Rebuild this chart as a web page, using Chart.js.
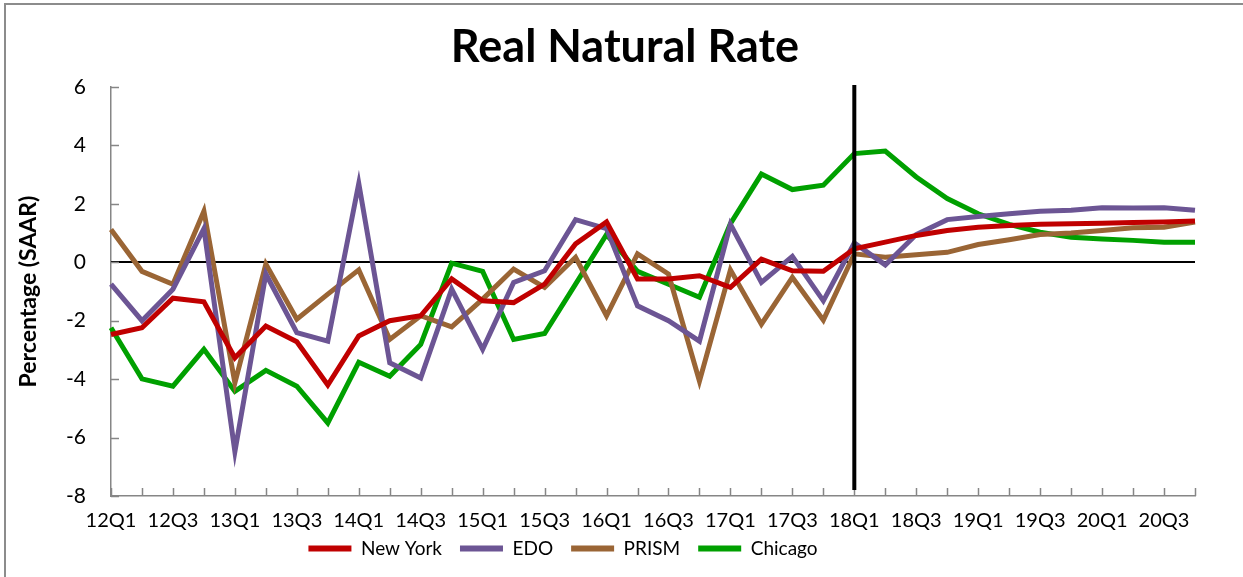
<!DOCTYPE html>
<html lang="en">
<head>
    <meta charset="UTF-8">
    <title>Real Natural Rate</title>
    <style>
        body {
            margin: 0;
            background: #fff;
            overflow: hidden;
        }
        .frame {
            position: absolute;
            left: 4px;
            top: 3px;
            width: 1300px;
            height: 620px;
            border: 2px solid #8c8c8c;
        }
        .chart-container {
            position: absolute;
            left: 0;
            top: 0;
            width: 1243px;
            height: 577px;
        }
    </style>
    <script src="https://cdn.jsdelivr.net/npm/chart.js@4.4.1/dist/chart.umd.min.js"></script>
</head>
<body>
    <div class="frame"></div>
    <div class="chart-container">
        <canvas id="line-chart" width="1243" height="577"></canvas>
    </div>

    <script>
    // quarters 12Q1 .. 20Q4
    const quarters = [
        "12Q1","12Q2","12Q3","12Q4","13Q1","13Q2","13Q3","13Q4",
        "14Q1","14Q2","14Q3","14Q4","15Q1","15Q2","15Q3","15Q4",
        "16Q1","16Q2","16Q3","16Q4","17Q1","17Q2","17Q3","17Q4",
        "18Q1","18Q2","18Q3","18Q4","19Q1","19Q2","19Q3","19Q4",
        "20Q1","20Q2","20Q3","20Q4"
    ];

    const newYork = [
        -2.47, -2.24, -1.23, -1.35, -3.27, -2.18, -2.72, -4.2,
        -2.52, -2.0, -1.83, -0.57, -1.32, -1.38, -0.75, 0.63,
        1.38, -0.57, -0.57, -0.46, -0.86, 0.11, -0.29, -0.31,
        0.46, 0.69, 0.92, 1.09, 1.2, 1.26, 1.3, 1.32,
        1.34, 1.36, 1.38, 1.41
    ];
    const edo = [
        -0.75, -2.0, -0.92, 1.15, -6.48, -0.4, -2.41, -2.7,
        2.7, -3.44, -3.96, -0.92, -2.98, -0.69, -0.29, 1.46,
        1.15, -1.49, -2.0, -2.7, 1.3, -0.69, 0.2, -1.32,
        0.66, -0.09, 0.95, 1.46, 1.57, 1.66, 1.75, 1.78,
        1.87, 1.86, 1.87, 1.78
    ];
    const prism = [
        1.12, -0.31, -0.75, 1.75, -4.13, -0.06, -1.95, -1.09,
        -0.26, -2.64, -1.83, -2.21, -1.26, -0.23, -0.86, 0.17,
        -1.83, 0.29, -0.4, -4.07, -0.26, -2.12, -0.52, -1.98,
        0.29, 0.17, 0.26, 0.34, 0.61, 0.77, 0.95, 1.0,
        1.09, 1.18, 1.2, 1.38
    ];
    const chicago = [
        -2.24, -3.99, -4.24, -2.98, -4.42, -3.7, -4.24, -5.5,
        -3.42, -3.9, -2.81, -0.03, -0.31, -2.64, -2.44, -0.75,
        0.95, -0.31, -0.75, -1.2, 1.32, 3.02, 2.49, 2.64,
        3.72, 3.81, 2.92, 2.18, 1.66, 1.3, 1.03, 0.86,
        0.8, 0.75, 0.69, 0.69
    ];

    const forecastStart = "18Q1";
    const axisGray = "#868686";
    const fontName = "Lato, 'Open Sans', sans-serif";
    // Excel puts title and legend off the plot centre
    const titleCenter = 625;
    const legendCenter = 563;
    const legendLift = 9;

    function serie(label, data, color) {
        return {
            label: label,
            data: data,
            borderColor: color,
            backgroundColor: color,
            borderWidth: 5,
            pointRadius: 0,
            fill: false,
            tension: 0
        };
    }

    const extras = {
        id: "extras",
        afterLayout(chart) {
            const t = chart.titleBlock;
            let dx = titleCenter - (t.left + t.right) / 2;
            t.left += dx; t.right += dx;
            const l = chart.legend;
            dx = legendCenter - (l.left + l.right) / 2;
            l.left += dx; l.right += dx;
            l.top -= legendLift; l.bottom -= legendLift;
        },
        beforeDatasetsDraw(chart) {
            const ctx = chart.ctx;
            const x = chart.scales.x;
            const y = chart.scales.y;
            const area = chart.chartArea;
            ctx.save();
            ctx.strokeStyle = "#000";
            ctx.lineWidth = 2;
            const y0 = Math.round(y.getPixelForValue(0));
            ctx.beginPath();
            ctx.moveTo(area.left, y0);
            ctx.lineTo(area.right, y0);
            ctx.stroke();

            // tick marks point into the plot
            ctx.strokeStyle = axisGray;
            ctx.lineWidth = 1.5;
            ctx.beginPath();
            y.ticks.forEach((t, i) => {
                const py = Math.round(y.getPixelForTick(i)) + 0.5;
                ctx.moveTo(area.left, py);
                ctx.lineTo(area.left + 8, py);
            });
            x.ticks.forEach((t, i) => {
                const px = Math.round(x.getPixelForTick(i)) + 0.5;
                ctx.moveTo(px, area.bottom);
                ctx.lineTo(px, area.bottom - 8);
            });
            ctx.stroke();
            ctx.restore();
        },
        afterDatasetsDraw(chart) {
            const ctx = chart.ctx;
            const x = chart.scales.x;
            const area = chart.chartArea;
            const xv = x.getPixelForValue(quarters.indexOf(forecastStart));
            ctx.save();
            ctx.strokeStyle = "#000";
            ctx.lineWidth = 4;
            ctx.beginPath();
            ctx.moveTo(xv, area.top - 2);
            ctx.lineTo(xv, area.bottom - 6);
            ctx.stroke();
            ctx.restore();
        }
    };

    new Chart("line-chart", {
        type: "line",
        data: {
            labels: quarters,
            datasets: [
                serie("New York", newYork, "#C00000"),
                serie("EDO", edo, "#6C5594"),
                serie("PRISM", prism, "#9A6535"),
                serie("Chicago", chicago, "#00A000")
            ]
        },
        options: {
            responsive: false,
            animation: false,
            layout: {
                padding: {left: 15, right: 48, top: 8, bottom: 0}
            },
            scales: {
                x: {
                    offset: false,
                    grid: {display: false, drawTicks: false},
                    border: {display: true, color: axisGray, width: 1.5},
                    afterFit: function(scale) {
                        scale.height -= 16;
                    },
                    ticks: {
                        autoSkip: false,
                        maxRotation: 0,
                        minRotation: 0,
                        padding: 13,
                        color: "#000",
                        font: {family: fontName, size: 20},
                        callback: function(v, i) {
                            return i % 2 === 0 ? quarters[i] : "";
                        }
                    }
                },
                y: {
                    min: -8,
                    max: 6,
                    grid: {display: false, drawTicks: false},
                    border: {display: true, color: axisGray, width: 1.5},
                    afterFit: function(scale) {
                        scale.width = 96;
                    },
                    ticks: {
                        stepSize: 2,
                        padding: 25,
                        color: "#000",
                        font: {family: fontName, size: 21}
                    },
                    title: {
                        display: true,
                        text: "Percentage (SAAR)",
                        color: "#000",
                        padding: {top: 0, bottom: 0},
                        font: {family: fontName, size: 23, weight: "bold"}
                    }
                }
            },
            plugins: {
                title: {
                    display: true,
                    text: "Real Natural Rate",
                    color: "#000",
                    padding: {top: 12, bottom: 13},
                    font: {family: fontName, size: 45, weight: "bold"}
                },
                legend: {
                    position: "bottom",
                    labels: {
                        boxWidth: 43,
                        boxHeight: 6,
                        padding: 18,
                        color: "#000",
                        font: {family: fontName, size: 19},
                        generateLabels: function(chart) {
                            return Chart.defaults.plugins.legend.labels.generateLabels(chart)
                                .map(item => Object.assign(item, {lineWidth: 0}));
                        }
                    }
                },
                tooltip: {enabled: false}
            }
        },
        plugins: [extras]
    });
    </script>
</body>
</html>
